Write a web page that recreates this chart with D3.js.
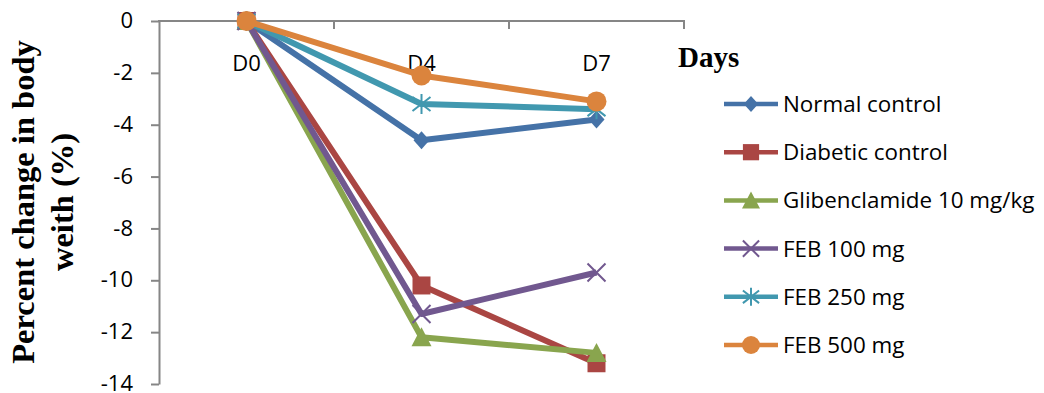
<!DOCTYPE html>
<html>
<head>
  <meta charset="utf-8">
  <title>Body weight change</title>
  <style>
    body { margin: 0; background: white; }
    svg text.tick-label { font-family: "Open Sans", "Liberation Sans", sans-serif; font-size: 22px; fill: #000; }
    svg text.legend-label { font-family: "Open Sans", "Liberation Sans", sans-serif; font-size: 22.4px; fill: #000; }
    svg .title { font-family: "Liberation Serif", "Times New Roman", serif; font-weight: bold; fill: #000; }
  </style>
</head>
<body>
  <div id="chart"></div>
  <script src="https://cdn.jsdelivr.net/npm/d3@7"></script>
  <script>
    const days = ["D0", "D4", "D7"];
    const yTicks = [0, -2, -4, -6, -8, -10, -12, -14];

    const seriesNames = ["Normal control", "Diabetic control", "Glibenclamide 10 mg/kg",
                         "FEB 100 mg", "FEB 250 mg", "FEB 500 mg"];
    const normalControl   = [0, -4.6, -3.8];
    const diabeticControl = [0, -10.2, -13.2];
    const glibenclamide   = [0, -12.2, -12.8];
    const feb100          = [0, -11.3, -9.7];
    const feb250          = [0, -3.2, -3.4];
    const feb500          = [0, -2.1, -3.1];

    const seriesValues = [normalControl, diabeticControl, glibenclamide, feb100, feb250, feb500];
    const colors = ["#4572A7", "#AA4643", "#89A54E", "#71588F", "#4198AF", "#DB843D"];
    const markers = ["diamond", "square", "triangle", "x", "star", "circle"];

    const width = 1044, height = 393;
    const svg = d3.select("#chart").append("svg")
      .attr("width", width).attr("height", height);

    const x = d3.scaleBand().domain(days).range([159, 684]);
    const y = d3.scaleLinear().domain([-14, 0]).range([384, 21]);
    const cx = d => x(d) + x.bandwidth() / 2;

    // y axis
    const yAxis = svg.append("g")
      .attr("transform", "translate(159,0)")
      .call(d3.axisLeft(y).tickValues(yTicks).tickSize(8).tickSizeOuter(0).tickPadding(18)
        .tickFormat(d => String(d)));
    yAxis.select(".domain").attr("stroke", "#868686").attr("stroke-width", 2);
    yAxis.selectAll(".tick line").attr("stroke", "#868686").attr("stroke-width", 2);
    yAxis.selectAll(".tick text").attr("class", "tick-label")
      .attr("font-family", null).attr("font-size", null).attr("dy", "0.3em");

    // x axis sits at 0, ticks pointing down, labels further below
    svg.append("line")
      .attr("x1", 158).attr("x2", x.range()[1] + 1)
      .attr("y1", y(0)).attr("y2", y(0))
      .attr("stroke", "#868686").attr("stroke-width", 2);
    svg.selectAll(".xtick")
      .data(days.map((d, i) => x.range()[0] + (i + 1) * x.bandwidth()))
      .enter().append("line")
        .attr("x1", d => d).attr("x2", d => d)
        .attr("y1", y(0)).attr("y2", y(0) + 8)
        .attr("stroke", "#868686").attr("stroke-width", 2);
    svg.selectAll(".xlabel")
      .data(days)
      .enter().append("text")
        .attr("class", "tick-label")
        .attr("x", d => cx(d)).attr("y", 71)
        .attr("text-anchor", "middle")
        .text(d => d);

    // titles
    const yTitle = svg.append("text")
      .attr("class", "title")
      .attr("font-size", 32.5)
      .attr("text-anchor", "middle")
      .attr("transform", "rotate(-90)");
    yTitle.append("tspan").attr("x", -202).attr("y", 34).text("Percent change in body");
    yTitle.append("tspan").attr("x", -202).attr("y", 73).text("weith (%)");

    svg.append("text")
      .attr("class", "title")
      .attr("font-size", 29)
      .attr("x", 678).attr("y", 67)
      .text("Days");

    function markerPath(type, k) {
      switch (type) {
        case "diamond": return `M0,${-9*k}L${8*k},0L0,${9*k}L${-8*k},0Z`;
        case "square": return `M${-9*k},${-9*k}H${9*k}V${9*k}H${-9*k}Z`;
        case "triangle": return `M0,${-10*k}L${10*k},${9*k}L${-10*k},${9*k}Z`;
        case "x": return `M${-9*k},${-9*k}L${9*k},${9*k}M${9*k},${-9*k}L${-9*k},${9*k}`;
        case "star": return `M${-9*k},${-7*k}L${9*k},${7*k}M${9*k},${-7*k}L${-9*k},${7*k}M0,${-10*k}V${10*k}`;
        case "circle": return d3.symbol(d3.symbolCircle, Math.PI * 100 * k * k)();
      }
    }
    function drawMarker(g, type, color, k) {
      const stroked = type === "x" || type === "star";
      g.append("path")
        .attr("d", markerPath(type, k))
        .attr("fill", stroked ? "none" : color)
        .attr("stroke", color)
        .attr("stroke-width", stroked ? 2 : 0);
    }

    const line = d3.line().x((d, i) => cx(days[i])).y(d => y(d));

    seriesValues.forEach((vals, s) => {
      const g = svg.append("g");
      g.append("path")
        .attr("d", line(vals))
        .attr("fill", "none")
        .attr("stroke", colors[s])
        .attr("stroke-width", 6)
        .attr("stroke-linejoin", "round");
      vals.forEach((v, i) => {
        const m = g.append("g").attr("transform", `translate(${cx(days[i])},${y(v)})`);
        drawMarker(m, markers[s], colors[s], 1);
      });
    });

    // legend
    const legend = svg.append("g").attr("transform", "translate(724,104)");
    seriesNames.forEach((name, s) => {
      const row = legend.append("g").attr("transform", `translate(0,${s * 48.2})`);
      row.append("line")
        .attr("x1", 0).attr("x2", 54)
        .attr("stroke", colors[s]).attr("stroke-width", 4.5);
      const m = row.append("g").attr("transform", "translate(27,0)");
      drawMarker(m, markers[s], colors[s], 0.9);
      row.append("text")
        .attr("class", "legend-label")
        .attr("x", 59).attr("y", 8)
        .text(name);
    });
  </script>
</body>
</html>
